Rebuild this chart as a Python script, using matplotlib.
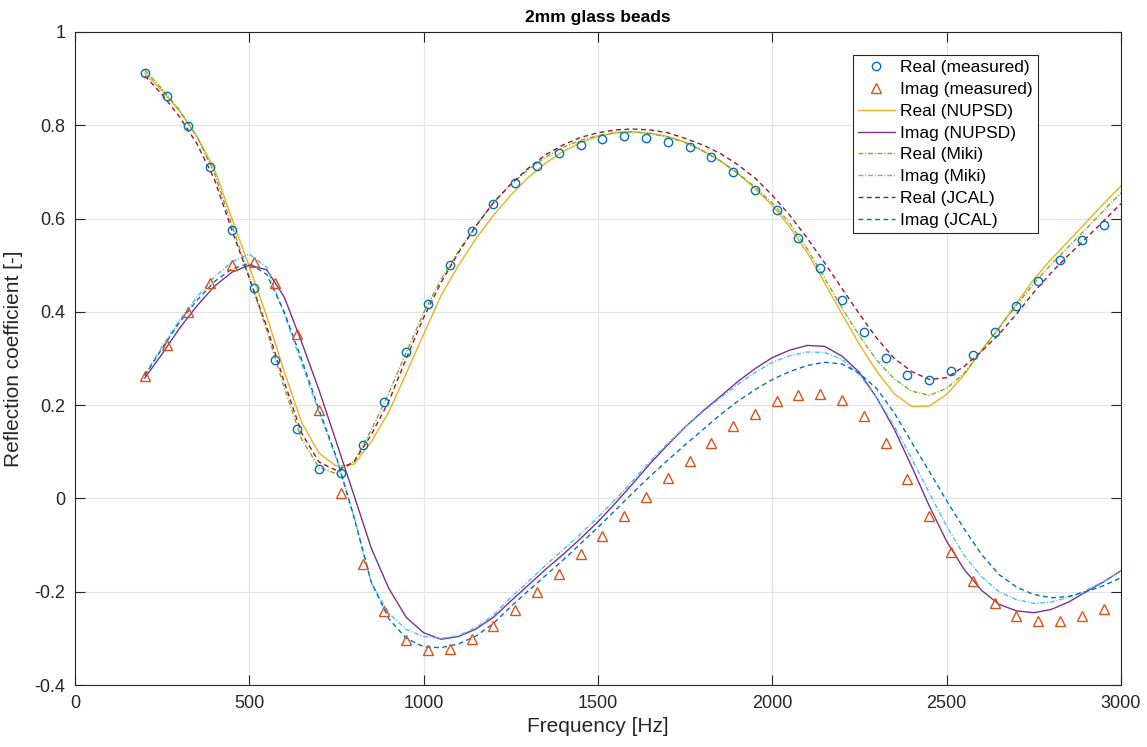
import matplotlib
matplotlib.use("Agg")
import matplotlib.pyplot as plt
from matplotlib.ticker import FixedLocator, FuncFormatter

plt.rcParams['font.family'] = ['Liberation Sans', 'DejaVu Sans']
plt.rcParams['axes.unicode_minus'] = False

# ---------------- data ----------------
freq_meas = [200, 262.5, 325, 387.5, 450, 512.5, 575, 637.5, 700, 762.5, 825, 887.5,
             950, 1012.5, 1075, 1137.5, 1200, 1262.5, 1325, 1387.5, 1450, 1512.5, 1575,
             1637.5, 1700, 1762.5, 1825, 1887.5, 1950, 2012.5, 2075, 2137.5, 2200, 2262.5,
             2325, 2387.5, 2450, 2512.5, 2575, 2637.5, 2700, 2762.5, 2825, 2887.5, 2950]

real_meas = [0.912, 0.863, 0.798, 0.711, 0.576, 0.451, 0.296, 0.149, 0.063, 0.055, 0.114, 0.206,
             0.313, 0.416, 0.500, 0.573, 0.631, 0.676, 0.712, 0.740, 0.758, 0.770, 0.776,
             0.773, 0.765, 0.754, 0.732, 0.700, 0.661, 0.618, 0.558, 0.494, 0.425, 0.357,
             0.301, 0.265, 0.254, 0.273, 0.307, 0.357, 0.412, 0.466, 0.512, 0.553, 0.587]

imag_meas = [0.263, 0.330, 0.399, 0.462, 0.500, 0.506, 0.461, 0.353, 0.190, 0.012, -0.141, -0.241,
             -0.304, -0.324, -0.322, -0.302, -0.274, -0.239, -0.201, -0.161, -0.120, -0.081, -0.038,
             0.002, 0.043, 0.081, 0.119, 0.156, 0.182, 0.209, 0.222, 0.224, 0.212, 0.177,
             0.118, 0.042, -0.037, -0.114, -0.178, -0.225, -0.252, -0.263, -0.262, -0.252, -0.236]

freq_model = [200, 250, 300, 350, 400, 450, 500, 550, 600, 650, 700, 750, 800, 850, 900, 950,
              1000, 1050, 1100, 1150, 1200, 1250, 1300, 1350, 1400, 1450, 1500, 1550, 1600,
              1650, 1700, 1750, 1800, 1850, 1900, 1950, 2000, 2050, 2100, 2150, 2200, 2250,
              2300, 2350, 2400, 2450, 2500, 2550, 2600, 2650, 2700, 2750, 2800, 2850, 2900,
              2950, 3000]

real_nupsd = [0.912, 0.874, 0.830, 0.776, 0.706, 0.600, 0.497, 0.390, 0.272, 0.163, 0.097, 0.069,
              0.073, 0.122, 0.185, 0.268, 0.352, 0.435, 0.500, 0.557, 0.607, 0.650, 0.688, 0.719,
              0.744, 0.763, 0.776, 0.784, 0.786, 0.783, 0.776, 0.764, 0.746, 0.724, 0.697, 0.665,
              0.628, 0.582, 0.527, 0.462, 0.395, 0.330, 0.272, 0.224, 0.197, 0.198, 0.223, 0.265,
              0.318, 0.366, 0.418, 0.470, 0.513, 0.552, 0.592, 0.632, 0.670]

imag_nupsd = [0.258, 0.310, 0.365, 0.413, 0.455, 0.485, 0.500, 0.490, 0.432, 0.335, 0.232, 0.120,
              0.007, -0.107, -0.193, -0.255, -0.288, -0.302, -0.296, -0.280, -0.255, -0.220,
              -0.186, -0.152, -0.120, -0.086, -0.050, -0.010, 0.032, 0.075, 0.115, 0.153, 0.187,
              0.218, 0.250, 0.278, 0.302, 0.318, 0.328, 0.326, 0.305, 0.270, 0.215, 0.148, 0.068,
              -0.016, -0.092, -0.152, -0.197, -0.227, -0.241, -0.245, -0.238, -0.222, -0.200,
              -0.179, -0.155]

real_miki = [0.918, 0.878, 0.832, 0.775, 0.697, 0.586, 0.474, 0.360, 0.238, 0.127, 0.066, 0.053,
             0.079, 0.147, 0.226, 0.313, 0.398, 0.470, 0.530, 0.585, 0.634, 0.673, 0.705, 0.732,
             0.753, 0.768, 0.778, 0.784, 0.786, 0.782, 0.775, 0.763, 0.745, 0.724, 0.698, 0.668,
             0.633, 0.590, 0.535, 0.472, 0.408, 0.348, 0.296, 0.256, 0.230, 0.221, 0.236, 0.268,
             0.316, 0.365, 0.414, 0.461, 0.502, 0.540, 0.578, 0.617, 0.655]

imag_miki = [0.265, 0.326, 0.382, 0.432, 0.475, 0.507, 0.524, 0.495, 0.395, 0.290, 0.185, 0.085,
             -0.038, -0.182, -0.246, -0.281, -0.296, -0.300, -0.294, -0.277, -0.250, -0.212,
             -0.178, -0.143, -0.110, -0.076, -0.040, -0.002, 0.038, 0.080, 0.118, 0.153, 0.185,
             0.215, 0.244, 0.270, 0.292, 0.306, 0.314, 0.313, 0.298, 0.265, 0.215, 0.155, 0.085,
             0.012, -0.060, -0.122, -0.168, -0.200, -0.217, -0.225, -0.222, -0.212, -0.197,
             -0.178, -0.155]

real_jcal = [0.906, 0.866, 0.818, 0.760, 0.684, 0.575, 0.472, 0.368, 0.250, 0.140, 0.078, 0.060,
             0.078, 0.137, 0.208, 0.300, 0.388, 0.463, 0.527, 0.584, 0.634, 0.674, 0.708, 0.737,
             0.758, 0.774, 0.784, 0.790, 0.792, 0.790, 0.784, 0.772, 0.758, 0.740, 0.716, 0.687,
             0.650, 0.607, 0.558, 0.505, 0.450, 0.395, 0.343, 0.300, 0.272, 0.255, 0.259, 0.283,
             0.315, 0.352, 0.395, 0.442, 0.484, 0.522, 0.558, 0.595, 0.632]

imag_jcal = [0.263, 0.322, 0.378, 0.425, 0.465, 0.492, 0.504, 0.480, 0.400, 0.298, 0.190, 0.088,
             -0.040, -0.180, -0.258, -0.300, -0.318, -0.320, -0.312, -0.295, -0.268, -0.232,
             -0.198, -0.165, -0.132, -0.097, -0.062, -0.025, 0.012, 0.048, 0.082, 0.115, 0.147,
             0.179, 0.208, 0.233, 0.255, 0.272, 0.285, 0.292, 0.288, 0.268, 0.235, 0.183, 0.120,
             0.058, -0.005, -0.065, -0.120, -0.163, -0.190, -0.206, -0.213, -0.210, -0.200,
             -0.187, -0.170]

x_ticks = [0, 500, 1000, 1500, 2000, 2500, 3000]
y_ticks = [-0.4, -0.2, 0, 0.2, 0.4, 0.6, 0.8, 1]

# ---------------- figure ----------------
W, H = 1147, 747
fig = plt.figure(figsize=(W / 100, H / 100), dpi=100)
ax = fig.add_axes([75 / W, 1 - 685 / H, (1121 - 75) / W, (685 - 32) / H])

c_blue = '#0072BD'
c_orange = '#D95319'
c_yellow = '#EDB120'
c_purple = '#7E2F8E'
c_green = '#77AC30'
c_cyan = '#4DBEEE'
c_red = '#A2142F'

lw = 1.0
ax.plot(freq_meas, real_meas, linestyle='none', marker='o', ms=6, mfc='none',
        mec=c_blue, mew=1.0, label='Real (measured)', zorder=5)
ax.plot(freq_meas, imag_meas, linestyle='none', marker='^', ms=6.5, mfc='none',
        mec=c_orange, mew=1.0, label='Imag (measured)', zorder=5)
ax.plot(freq_model, real_nupsd, color=c_yellow, lw=lw, label='Real (NUPSD)')
ax.plot(freq_model, imag_nupsd, color=c_purple, lw=lw, label='Imag (NUPSD)')
ax.plot(freq_model, real_miki, color=c_green, lw=lw, dashes=(3.5, 1.3, 0.8, 1.3),
        label='Real (Miki)')
ax.plot(freq_model, imag_miki, color=c_cyan, lw=lw, dashes=(3.5, 1.3, 0.8, 1.3),
        label='Imag (Miki)')
ax.plot(freq_model, real_jcal, color=c_red, lw=lw, dashes=(3.5, 2.5), label='Real (JCAL)')
ax.plot(freq_model, imag_jcal, color=c_blue, lw=lw, dashes=(3.5, 2.5), label='Imag (JCAL)')

ax.set_xlim(0, 3000)
ax.set_ylim(-0.4, 1)
ax.xaxis.set_major_locator(FixedLocator(x_ticks))
ax.yaxis.set_major_locator(FixedLocator(y_ticks))
ax.xaxis.set_major_formatter(FuncFormatter(lambda v, p: f'{v:g}'))
ax.yaxis.set_major_formatter(FuncFormatter(lambda v, p: f'{round(v, 1):g}'))

ax.grid(True, color='#E3E3E3', lw=0.9)
ax.set_axisbelow(True)
for s in ax.spines.values():
    s.set_color('#262626')
    s.set_linewidth(0.8)
ax.tick_params(direction='in', length=7, width=0.8, colors='#262626', labelsize=13,
               top=True, right=True, pad=7)
for lab in ax.get_xticklabels() + ax.get_yticklabels():
    lab.set_color('#262626')

ax.set_xlabel('Frequency [Hz]', fontsize=15, color='#262626', labelpad=4)
ax.set_ylabel('Reflection coefficient [-]', fontsize=15, color='#262626', labelpad=8)
ax.set_title('2mm glass beads', fontsize=12.5, fontweight='bold', color='black', pad=7)

leg = ax.legend(loc='upper left', bbox_to_anchor=(853 / W, 1 - 55 / H),
                bbox_transform=fig.transFigure, borderaxespad=0, fontsize=12.5,
                frameon=True, fancybox=False, edgecolor='#262626', framealpha=1,
                handlelength=2.1, handletextpad=0.3, labelspacing=0.38, borderpad=0.3,
                numpoints=1)
leg.get_frame().set_linewidth(0.8)

fig.savefig('out.png', dpi=100)
